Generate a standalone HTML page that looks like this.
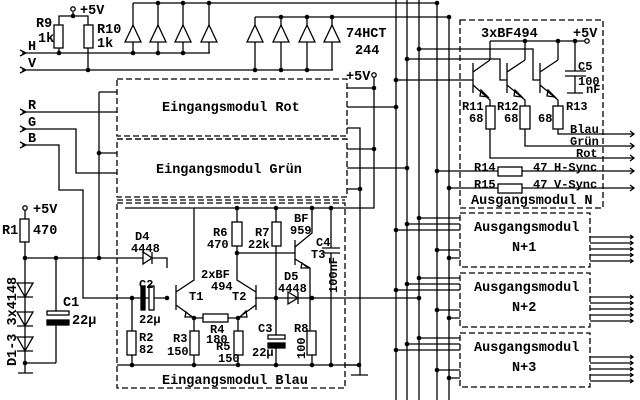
<!DOCTYPE html>
<html><head><meta charset="utf-8"><style>
html,body{margin:0;padding:0;background:#fff;}
svg{display:block;}
text{font-family:"Liberation Mono",monospace;font-weight:bold;fill:#000;}
.s{font-size:12px;}
.b{font-size:13.5px;}
</style></head><body>
<svg width="640" height="400" viewBox="0 0 640 400" xmlns="http://www.w3.org/2000/svg">
<g stroke="#000" stroke-width="1.3" fill="none">
<path d="M396 0V400M407 0V400M419 0V400M437 3V400M449 17V400"/>
<path d="M133 3H437M255 17H449"/>
<path d="M22 53H210M22 70H333"/>
<path d="M20 50l6 3-6 3M20 67l6 3-6 3M20 109l6 3-6 3M20 126l6 3-6 3M20 142l6 3-6 3"/>
<rect x="54" y="25" width="9" height="23" fill="#fff"/><rect x="84" y="25" width="9" height="23" fill="#fff"/>
<path d="M59 25V16H88V25M73 16V12M59 48V53M88 48V70"/>
<circle cx="73" cy="9" r="2.2" fill="#fff"/>
<path d="M133 3V25M158 3V25M183 3V25M209 3V25"/>
<path d="M133 25l-8 17h16zM158 25l-8 17h16zM183 25l-8 17h16zM209 25l-8 17h16z"/>
<path d="M133 42V53M158 42V53M183 42V53M209 42V53"/>
<path d="M255 17V25M281 17V25M307 17V25M332 17V25"/>
<path d="M255 25l-8 17h16zM281 25l-8 17h16zM307 25l-8 17h16zM332 25l-8 17h16z"/>
<path d="M255 42V70M281 42V70M307 42V70M332 42V70"/>
<g stroke-dasharray="6,3">
<rect x="117" y="79" width="230" height="57"/>
<path d="M117 139H347"/>
<rect x="117" y="139" width="230" height="58"/>
<path d="M117 200H345"/>
<rect x="117" y="203" width="228" height="185"/>
<rect x="460" y="20" width="143" height="188"/>
<rect x="460" y="213" width="130" height="54"/>
<rect x="460" y="273" width="130" height="54"/>
<rect x="460" y="333" width="130" height="54"/>
</g>
<path d="M22 112H117M22 129H76V173H117M22 145H59V190H83V298H167"/>
<path d="M99 92V258M99 92H117M99 153H117"/>
<circle cx="374" cy="75" r="2.2" fill="#fff"/>
<path d="M374 77V208H125M347 88H374M347 107H396M347 128H360V375M347 149H374M347 168H407M347 189H360"/>
<path d="M351 375H368M255 298H419M345 365H359"/>
<circle cx="25" cy="208" r="2.2" fill="#fff"/>
<rect x="20" y="219" width="9" height="23" fill="#fff"/>
<path d="M25 210V219M25 242V363H56M25 258H143M152 258H167V268M25 363V373M18 373H33"/>
<path d="M56 258V313M56 324V363"/>
<rect x="47" y="311" width="22" height="4" fill="#fff"/>
<rect x="47" y="320" width="22" height="5" fill="#000"/>
<path d="M143 252V264L152 258ZM152 252V264"/>
<path d="M17 283H33L25 297ZM17 297H33M17 312H33L25 326ZM17 326H33M17 337H33L25 351ZM17 351H33"/>
<path d="M117 365H359"/>
<rect x="127" y="331" width="9" height="24" fill="#fff"/>
<path d="M132 298V331M132 355V365"/>
<rect x="141" y="286" width="4" height="24" fill="#000"/>
<rect x="149" y="286" width="5" height="24" fill="#fff"/>
<path d="M176 285V310M176 292L194 280V208M176 305L194 318M186 312l6 5-7 0z"/>
<path d="M194 318V331M194 355V365M194 318H203M228 318H238"/>
<rect x="190" y="331" width="9" height="24" fill="#fff"/>
<rect x="203" y="314" width="25" height="8" fill="#fff"/>
<path d="M256 285V310M256 292L237 280V246M256 305L238 318M246 311l-6 6 7 0z"/>
<path d="M238 318V331M238 355V365"/>
<rect x="234" y="331" width="9" height="24" fill="#fff"/>
<rect x="232" y="222" width="10" height="24" fill="#fff"/>
<path d="M237 208V222M237 253H295"/>
<rect x="272" y="222" width="9" height="24" fill="#fff"/>
<path d="M276 208V222M276 246V335M276 348V365"/>
<rect x="268" y="335" width="17" height="4" fill="#fff"/>
<rect x="268" y="343" width="17" height="5" fill="#000"/>
<path d="M288 292V304L298 298ZM298 292V304"/>
<path d="M295 240V265M295 247L312 233V208M295 259L310 268V331M302 263l6 5-7 0z"/>
<rect x="307" y="331" width="9" height="24" fill="#fff"/>
<path d="M312 355V365M331 208V248M331 253V365M322 248H340M322 253H340"/>
<circle cx="587" cy="41" r="2.2" fill="#fff"/>
<path d="M490 41H585M490 41V60M525 41V60M558 41V60M575 41V71M575 76V93M567 93H583M565 71H586M565 76H586"/>
<path d="M396 80H473M407 59H500V80H507M419 49H533V80H540"/>
<path d="M473 63V93M473 72L490 60M473 85L490 100V106M481 90l7 7-8-1z"/>
<path d="M507 63V93M507 72L525 60M507 85L525 100V106M515 90l7 7-8-1z"/>
<path d="M540 63V93M540 72L558 60M540 85L558 100V106M548 90l7 7-8-1z"/>
<rect x="486" y="106" width="9" height="23" fill="#fff"/>
<rect x="520" y="106" width="10" height="23" fill="#fff"/>
<rect x="553" y="106" width="10" height="23" fill="#fff"/>
<path d="M490 129V158H633M525 129V146H633M558 129V134H633M437 171H498M522 171H633M449 188H498M522 188H633"/>
<rect x="498" y="167" width="24" height="9" fill="#fff"/>
<rect x="498" y="184" width="24" height="9" fill="#fff"/>
<path d="M630 131l4 3-4 3M630 143l4 3-4 3M630 155l4 3-4 3M630 168l4 3-4 3M630 185l4 3-4 3"/>
<path d="M419 218H460M407 224H460M396 230H460M437 250H460M449 258H460"/>
<path d="M419 278H460M407 284H460M396 290H460M437 310H460M449 318H460"/>
<path d="M419 338H460M407 344H460M396 350H460M437 370H460M449 378H460"/>
<path d="M590 237H633M590 243H633M590 249H633M590 255H633M590 261H633"/>
<path d="M590 297H633M590 303H633M590 309H633M590 315H633M590 321H633"/>
<path d="M590 357H633M590 363H633M590 369H633M590 375H633M590 381H633"/>
<path d="M630 235l3 2-3 2M630 241l3 2-3 2M630 247l3 2-3 2M630 253l3 2-3 2M630 259l3 2-3 2M630 295l3 2-3 2M630 301l3 2-3 2M630 307l3 2-3 2M630 313l3 2-3 2M630 319l3 2-3 2M630 355l3 2-3 2M630 361l3 2-3 2M630 367l3 2-3 2M630 373l3 2-3 2M630 379l3 2-3 2"/>
</g>
<g fill="#000">
<circle cx="73" cy="16" r="2.3"/><circle cx="59" cy="53" r="2.3"/><circle cx="88" cy="70" r="2.3"/>
<circle cx="158" cy="3" r="2.3"/><circle cx="183" cy="3" r="2.3"/><circle cx="209" cy="3" r="2.3"/>
<circle cx="133" cy="53" r="2.3"/><circle cx="158" cy="53" r="2.3"/><circle cx="183" cy="53" r="2.3"/>
<circle cx="281" cy="17" r="2.3"/><circle cx="307" cy="17" r="2.3"/><circle cx="332" cy="17" r="2.3"/>
<circle cx="255" cy="70" r="2.3"/><circle cx="281" cy="70" r="2.3"/><circle cx="307" cy="70" r="2.3"/>
<circle cx="437" cy="3" r="2.3"/><circle cx="449" cy="17" r="2.3"/>
<circle cx="419" cy="49" r="2.3"/><circle cx="407" cy="59" r="2.3"/><circle cx="396" cy="80" r="2.3"/>
<circle cx="374" cy="88" r="2.3"/><circle cx="396" cy="107" r="2.3"/><circle cx="374" cy="149" r="2.3"/><circle cx="407" cy="168" r="2.3"/><circle cx="360" cy="189" r="2.3"/>
<circle cx="437" cy="171" r="2.3"/><circle cx="449" cy="188" r="2.3"/>
<circle cx="99" cy="153" r="2.3"/><circle cx="99" cy="258" r="2.3"/><circle cx="25" cy="258" r="2.3"/><circle cx="56" cy="258" r="2.3"/><circle cx="25" cy="363" r="2.3"/>
<circle cx="132" cy="298" r="2.3"/><circle cx="167" cy="298" r="2.3"/><circle cx="194" cy="318" r="2.3"/><circle cx="238" cy="318" r="2.3"/>
<circle cx="237" cy="253" r="2.3"/><circle cx="276" cy="298" r="2.3"/><circle cx="312" cy="298" r="2.3"/><circle cx="419" cy="298" r="2.3"/>
<circle cx="237" cy="208" r="2.3"/><circle cx="276" cy="208" r="2.3"/><circle cx="312" cy="208" r="2.3"/><circle cx="331" cy="208" r="2.3"/>
<circle cx="132" cy="365" r="2.3"/><circle cx="194" cy="365" r="2.3"/><circle cx="238" cy="365" r="2.3"/><circle cx="276" cy="365" r="2.3"/><circle cx="312" cy="365" r="2.3"/><circle cx="331" cy="365" r="2.3"/><circle cx="359" cy="365" r="2.3"/>
<circle cx="525" cy="41" r="2.3"/><circle cx="558" cy="41" r="2.3"/><circle cx="575" cy="41" r="2.3"/>
<circle cx="419" cy="218" r="2.3"/><circle cx="407" cy="224" r="2.3"/><circle cx="396" cy="230" r="2.3"/><circle cx="437" cy="250" r="2.3"/><circle cx="449" cy="258" r="2.3"/>
<circle cx="419" cy="278" r="2.3"/><circle cx="407" cy="284" r="2.3"/><circle cx="396" cy="290" r="2.3"/><circle cx="437" cy="310" r="2.3"/><circle cx="449" cy="318" r="2.3"/>
<circle cx="419" cy="338" r="2.3"/><circle cx="407" cy="344" r="2.3"/><circle cx="396" cy="350" r="2.3"/><circle cx="437" cy="370" r="2.3"/><circle cx="449" cy="378" r="2.3"/>
</g>
<text class="b" x="36" y="27">R9</text><text class="b" x="38" y="42">1k</text>
<text class="b" x="97" y="33">R10</text><text class="b" x="97" y="47">1k</text>
<text class="b" x="80" y="14">+5V</text>
<text class="b" x="28" y="50">H</text><text class="b" x="28" y="67">V</text>
<text class="b" x="28" y="109">R</text><text class="b" x="28" y="126">G</text><text class="b" x="28" y="142">B</text>
<text class="b" x="346" y="37">74HCT</text><text class="b" x="355" y="54">244</text>
<text class="b" x="346" y="80">+5V</text>
<text class="b" x="162" y="111">Eingangsmodul Rot</text>
<text class="b" x="156" y="173">Eingangsmodul Grün</text>
<text class="b" x="162" y="384">Eingangsmodul Blau</text>
<text class="b" x="33" y="213">+5V</text>
<text class="b" x="2" y="234">R1</text><text class="b" x="33" y="234">470</text>
<text class="b" x="63" y="306">C1</text><text class="b" x="72" y="324">22µ</text>
<text class="b" transform="translate(16,366) rotate(-90)">D1-3 3x4148</text>
<text class="s" x="135" y="240">D4</text><text class="s" x="131" y="252">4448</text>
<text class="s" x="139" y="288">C2</text><text class="s" x="139" y="323">22µ</text>
<text class="s" x="139" y="341">R2</text><text class="s" x="139" y="353">82</text>
<text class="s" x="189" y="300">T1</text><text class="s" x="232" y="300">T2</text>
<text class="s" x="201" y="278">2xBF</text><text class="s" x="211" y="290">494</text>
<text class="s" x="173" y="342">R3</text><text class="s" x="167" y="355">150</text>
<text class="s" x="210" y="333">R4</text><text class="s" x="206" y="343">180</text>
<text class="s" x="216" y="350">R5</text><text class="s" x="218" y="362">150</text>
<text class="s" x="213" y="236">R6</text><text class="s" x="207" y="248">470</text>
<text class="s" x="255" y="236">R7</text><text class="s" x="248" y="248">22k</text>
<text class="s" x="294" y="222">BF</text><text class="s" x="290" y="234">959</text>
<text class="s" x="316" y="246">C4</text><text class="s" x="311" y="258">T3</text>
<text class="s" x="284" y="280">D5</text><text class="s" x="278" y="292">4448</text>
<text class="s" transform="translate(337,293) rotate(-90)">100nF</text>
<text class="s" x="258" y="332">C3</text><text class="s" x="252" y="356">22µ</text>
<text class="s" x="294" y="332">R8</text>
<text class="s" transform="translate(305,359) rotate(-90)">100</text>
<text class="b" x="481" y="37">3xBF494</text><text class="b" x="573" y="37">+5V</text>
<text class="s" x="578" y="70">C5</text><text class="s" x="578" y="85">100</text><text class="s" x="586" y="93">nF</text>
<text class="s" x="462" y="110">R11</text><text class="s" x="469" y="122">68</text>
<text class="s" x="497" y="110">R12</text><text class="s" x="504" y="122">68</text>
<text class="s" x="566" y="110">R13</text><text class="s" x="538" y="122">68</text>
<text class="s" x="570" y="133">Blau</text><text class="s" x="570" y="145">Grün</text><text class="s" x="576" y="157">Rot</text>
<text class="s" x="474" y="171">R14</text><text class="s" x="533" y="171">47</text><text class="s" x="554" y="171">H-Sync</text>
<text class="s" x="474" y="188">R15</text><text class="s" x="533" y="188">47</text><text class="s" x="554" y="188">V-Sync</text>
<text class="b" x="471" y="204">Ausgangsmodul N</text>
<text class="b" x="474" y="231">Ausgangsmodul</text><text class="b" x="512" y="251">N+1</text>
<text class="b" x="474" y="291">Ausgangsmodul</text><text class="b" x="512" y="311">N+2</text>
<text class="b" x="474" y="351">Ausgangsmodul</text><text class="b" x="512" y="371">N+3</text>
</svg>
</body></html>
